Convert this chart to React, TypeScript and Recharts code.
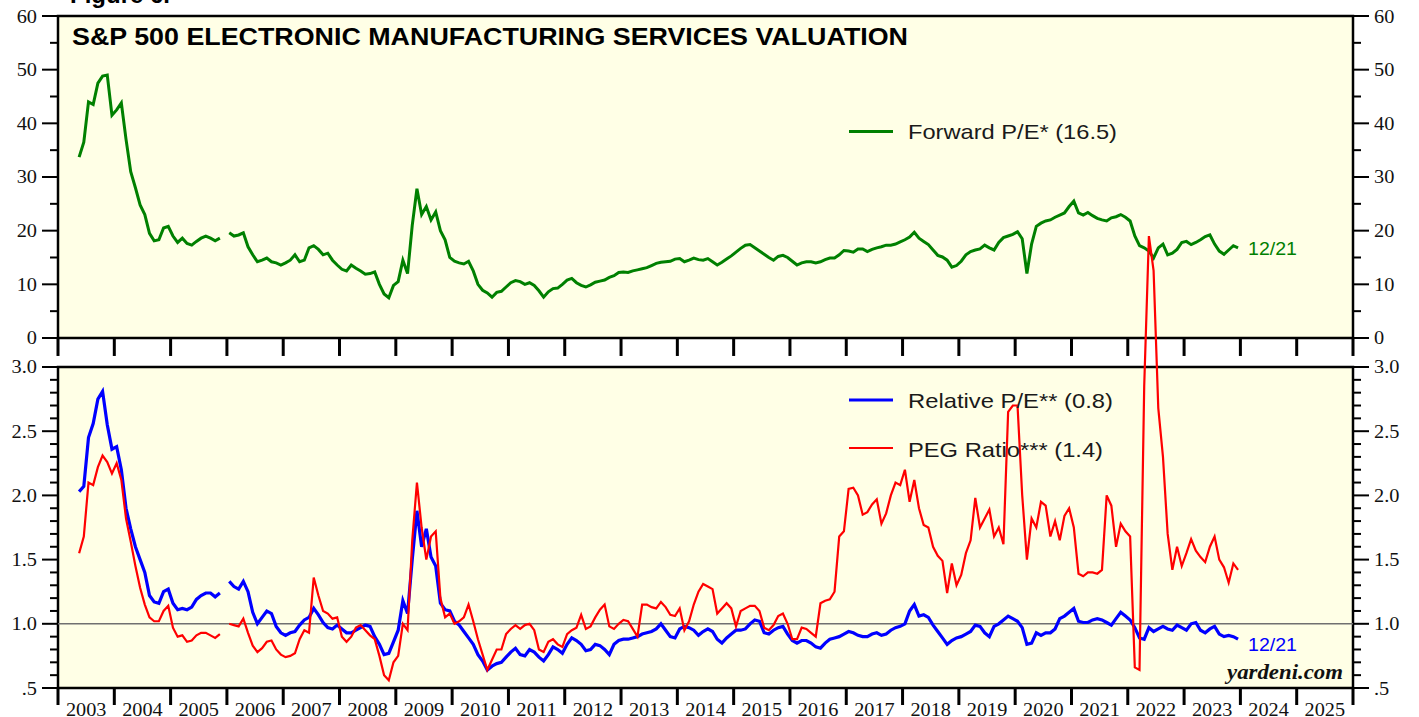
import React from 'react';
import { ComposedChart, Line, XAxis, YAxis, ReferenceArea, ReferenceLine } from 'recharts';

// ---------- DATA (monthly, May 2003 .. Dec 2023) ----------
const START_YEAR = 2003;
const START_MONTH = 5; // May

const forwardPE: (number | null)[] = [
  33.7, 36.5, 44, 43.5, 47.5, 48.8, 49, 41.5,
  42.5, 43.8, 37, 31, 28, 24.8, 23, 19.5, 18.1, 18.3, 20.5, 20.8,
  19, 17.8, 18.6, 17.6, 17.3, 18, 18.6, 19, 18.6, 18.1, 18.6, null,
  19.6, 19, 19.2, 19.6, 17, 15.5, 14.2, 14.5, 14.9, 14.2, 14, 13.6,
  14, 14.5, 15.5, 14.2, 14.5, 16.8, 17.2, 16.5, 15.5, 15.8, 14.5, 13.6,
  12.8, 12.5, 13.6, 13, 12.5, 11.9, 12, 12.3, 10, 8.2, 7.5, 9.8,
  10.5, 14.5, 12, 21, 27.8, 23, 24.5, 22, 23.5, 20, 18.3, 15,
  14.3, 14, 13.8, 14.3, 12.5, 10, 8.9, 8.4, 7.6, 8.5, 8.7, 9.5,
  10.3, 10.7, 10.5, 10, 10.3, 9.8, 8.8, 7.6, 8.6, 9.2, 9.3, 10,
  10.8, 11.1, 10.3, 9.8, 9.5, 9.9, 10.4, 10.6, 10.8, 11.3, 11.6, 12.2,
  12.3, 12.2, 12.5, 12.7, 12.9, 13.1, 13.5, 13.9, 14.1, 14.2, 14.3, 14.7,
  14.8, 14.2, 14.5, 14.9, 14.6, 14.5, 14.8, 14.2, 13.6, 14.1, 14.7, 15.3,
  16, 16.7, 17.3, 17.4, 16.8, 16.2, 15.6, 15, 14.5, 15.2, 15.4, 15,
  14.3, 13.6, 14, 14.2, 14.2, 14, 14.2, 14.6, 14.9, 14.9, 15.5, 16.3,
  16.2, 16, 16.6, 16.6, 16.1, 16.5, 16.8, 17, 17.3, 17.3, 17.5, 17.9,
  18.3, 18.8, 19.7, 18.6, 18, 17.4, 16.4, 15.4, 15.1, 14.5, 13.2, 13.5,
  14.3, 15.5, 16.1, 16.4, 16.6, 17.3, 16.8, 16.4, 17.8, 18.7, 19, 19.3,
  19.8, 18.5, 12, 17.5, 20.8, 21.4, 21.8, 22, 22.5, 22.9, 23.3, 24.5,
  25.5, 23.3, 22.9, 23.4, 22.8, 22.3, 22, 21.8, 22.4, 22.6, 23, 22.5,
  21.8, 19, 17.2, 16.8, 16.2, 14.9, 16.8, 17.5, 15.5, 15.8, 16.5, 17.8,
  18, 17.4, 17.8, 18.3, 18.9, 19.2, 17.5, 16.2, 15.6, 16.4, 17.2, 16.8,
];

const relativePE: (number | null)[] = [
  2.03, 2.07, 2.45, 2.56, 2.75, 2.81, 2.55, 2.36,
  2.38, 2.2, 1.9, 1.74, 1.6, 1.5, 1.4, 1.22, 1.17, 1.16, 1.25, 1.27,
  1.16, 1.11, 1.12, 1.11, 1.13, 1.19, 1.22, 1.24, 1.24, 1.21, 1.24, null,
  1.33, 1.29, 1.27, 1.33, 1.25, 1.09, 1.0, 1.05, 1.1, 1.08, 0.98, 0.93,
  0.91, 0.93, 0.94, 0.99, 1.03, 1.05, 1.12, 1.07, 1.01, 0.97, 0.96, 0.99,
  0.96, 0.93, 0.93, 0.95, 0.97, 0.99, 0.98, 0.9, 0.84, 0.76, 0.77, 0.86,
  0.95, 1.18, 1.08, 1.5, 1.88, 1.6, 1.74, 1.52, 1.45, 1.16, 1.11, 1.1,
  1.02, 0.99, 0.94, 0.89, 0.84, 0.76, 0.71, 0.64, 0.67, 0.69, 0.7, 0.74,
  0.78, 0.81, 0.76, 0.75, 0.8, 0.78, 0.74, 0.71, 0.76, 0.82, 0.8, 0.77,
  0.84, 0.89, 0.87, 0.84, 0.79, 0.8, 0.84, 0.83, 0.8, 0.76, 0.84, 0.87,
  0.88, 0.88, 0.89, 0.9, 0.92, 0.93, 0.94, 0.96, 1.0, 0.95, 0.9, 0.89,
  0.96, 0.98, 0.97, 0.95, 0.91, 0.94, 0.96, 0.94, 0.88, 0.85, 0.89, 0.92,
  0.95, 0.95, 0.96, 1.0, 1.03, 1.02, 0.93, 0.92, 0.95, 0.97, 0.98, 0.92,
  0.87, 0.85, 0.87, 0.87, 0.85, 0.82, 0.81, 0.85, 0.88, 0.89, 0.9, 0.92,
  0.94, 0.93, 0.91, 0.9, 0.9, 0.92, 0.93, 0.91, 0.92, 0.95, 0.97, 0.98,
  1.0, 1.1, 1.15, 1.06, 1.07, 1.05, 0.99, 0.94, 0.89, 0.84, 0.87, 0.89,
  0.9, 0.92, 0.94, 0.99, 0.98, 0.93, 0.9, 0.98, 1.0, 1.03, 1.06, 1.04,
  1.02, 0.97, 0.84, 0.85, 0.93, 0.91, 0.93, 0.93, 0.96, 1.04, 1.06, 1.09,
  1.12, 1.02, 1.01, 1.01, 1.03, 1.04, 1.03, 1.01, 0.99, 1.04, 1.09, 1.06,
  1.03, 0.97, 0.89, 0.88, 0.97, 0.94, 0.96, 0.98, 0.96, 0.95, 0.99, 0.97,
  0.95, 1.0, 1.01, 0.95, 0.93, 0.96, 0.98, 0.92, 0.9, 0.91, 0.9, 0.88,
];

const pegRatio: (number | null)[] = [
  1.55, 1.68, 2.1, 2.08, 2.22, 2.31, 2.26, 2.17,
  2.25, 2.12, 1.82, 1.64, 1.45, 1.28, 1.15, 1.05, 1.02, 1.02, 1.1, 1.14,
  0.97, 0.9, 0.91, 0.86, 0.87, 0.91, 0.93, 0.93, 0.91, 0.89, 0.92, null,
  1.0, 0.99, 0.98, 1.04, 0.93, 0.83, 0.78, 0.81, 0.86, 0.87, 0.8, 0.76,
  0.74, 0.75, 0.77, 0.88, 0.95, 0.93, 1.36, 1.22, 1.1, 1.08, 1.04, 1.05,
  0.9, 0.86, 0.9, 0.97, 0.99, 0.95, 0.91, 0.88, 0.75, 0.6, 0.56, 0.7,
  0.75, 1.0, 0.95, 1.65, 2.1, 1.75, 1.5, 1.68, 1.72, 1.2, 1.05, 1.08,
  1.0, 1.02, 1.05, 1.15, 1.02, 0.88, 0.76, 0.64, 0.72, 0.8, 0.8, 0.92,
  0.96, 0.99, 0.96, 0.99, 1.0, 0.95, 0.8, 0.78, 0.86, 0.88, 0.84, 0.82,
  0.92, 0.95, 0.97, 1.07, 0.96, 0.98, 1.05, 1.11, 1.15, 0.98, 0.96, 1.0,
  1.03, 1.02, 0.96, 0.9, 1.15, 1.15, 1.13, 1.12, 1.17, 1.13, 1.07, 1.06,
  1.12, 0.95, 1.02, 1.15, 1.25, 1.31, 1.29, 1.27, 1.08, 1.12, 1.16, 1.12,
  0.98, 1.1, 1.12, 1.14, 1.14, 1.1, 0.97, 0.95, 0.99, 1.06, 1.08, 1.0,
  0.88, 0.88, 0.97, 0.96, 0.93, 0.9, 1.16, 1.18, 1.19, 1.25, 1.68, 1.72,
  2.05, 2.06, 2.0, 1.85, 1.87, 1.93, 1.97, 1.78, 1.86, 2.0, 2.1, 2.08,
  2.2, 1.95, 2.12, 1.9, 1.77, 1.75, 1.6, 1.53, 1.49, 1.24, 1.47, 1.3,
  1.38, 1.55, 1.65, 1.98, 1.75, 1.82, 1.89, 1.68, 1.75, 1.62, 2.65, 2.7,
  2.7, 2.0, 1.5, 1.82, 1.75, 1.95, 1.92, 1.68, 1.8, 1.65, 1.84, 1.9,
  1.75, 1.39, 1.37, 1.4, 1.4, 1.39, 1.42, 2.0, 1.92, 1.6, 1.78, 1.72,
  1.68, 0.66, 0.64, 2.85, 4.02, 3.75, 2.68, 2.3, 1.7, 1.42, 1.6, 1.45,
  1.55, 1.66, 1.57, 1.52, 1.48, 1.6, 1.68, 1.5, 1.44, 1.32, 1.47, 1.42,
];

const yearTicks = [2003, 2004, 2005, 2006, 2007, 2008, 2009, 2010, 2011, 2012, 2013, 2014, 2015, 2016, 2017, 2018, 2019, 2020, 2021, 2022, 2023, 2024, 2025, 2026];
const yearLabels = [2003, 2004, 2005, 2006, 2007, 2008, 2009, 2010, 2011, 2012, 2013, 2014, 2015, 2016, 2017, 2018, 2019, 2020, 2021, 2022, 2023, 2024, 2025];
const peTicks = [0, 5, 10, 15, 20, 25, 30, 35, 40, 45, 50, 55, 60];
const peMajor = [0, 10, 20, 30, 40, 50, 60];
const relTicks = [0.5, 0.6, 0.7, 0.8, 0.9, 1.0, 1.1, 1.2, 1.3, 1.4, 1.5, 1.6, 1.7, 1.8, 1.9, 2.0, 2.1, 2.2, 2.3, 2.4, 2.5, 2.6, 2.7, 2.8, 2.9, 3.0];
const relMajor = [0.5, 1.0, 1.5, 2.0, 2.5, 3.0];
const relLabel: Record<string, string> = { '0.5': '.5', '1': '1.0', '1.5': '1.5', '2': '2.0', '2.5': '2.5', '3': '3.0' };

const rows = forwardPE.map((_, i) => {
  const mIdx = START_MONTH - 1 + i;
  return {
    t: START_YEAR + (mIdx + 0.5) / 12,
    pe: forwardPE[i],
    rel: relativePE[i],
    peg: pegRatio[i],
  };
});

// ---------- STYLE ----------
const W = 1419;
const H = 717;
const SERIF = '"Liberation Serif", "Times New Roman", Times, serif';
const SANS = '"Liberation Sans", Arial, Helvetica, sans-serif';
const CREAM = '#FFFFE6';
const GREEN = '#008000';
const BLUE = '#0000FF';
const RED = '#FF0000';

const numWidth = (s: string) => {
  let w = 0;
  for (const ch of s) w += ch === '.' ? 4.5 : 9;
  return w * 1.13;
};

// edge: pixel offset from the given tick x to the panel border
const makeYTick = (side: 'left' | 'right', majors: number[], fmt: (v: number) => string, edge: number) => (props: any) => {
  const { y, payload } = props;
  const x = props.x + edge;
  const v = Number(payload.value);
  const isMajor = majors.some((m) => Math.abs(m - v) < 1e-6);
  const dir = side === 'left' ? -1 : 1;
  const len = isMajor ? 16 : 8;
  const label = fmt(v);
  return (
    <g>
      <line x1={x} x2={x + dir * len} y1={y} y2={y} stroke="#000" strokeWidth={2} />
      {isMajor && (
        <text
          x={x + dir * 21}
          y={y + 6.5}
          textAnchor={side === 'left' ? 'end' : 'start'}
          fontFamily={SERIF}
          fontSize={18}
          fill="#111"
          textLength={numWidth(label)}
          lengthAdjust="spacingAndGlyphs"
        >
          {label}
        </text>
      )}
    </g>
  );
};

const peFmt = (v: number) => String(v);
const relFmt = (v: number) => relLabel[String(Math.round(v * 10) / 10)] ?? String(v);

const YearTick = (p: any) => (
  <line x1={p.x} x2={p.x} y1={688} y2={705} stroke="#000" strokeWidth={3} />
);
const YearLabel = (p: any) => (
  <text
    x={p.x}
    y={716}
    textAnchor="middle"
    fontFamily={SERIF}
    fontSize={18}
    fill="#111"
    textLength={40.5}
    lengthAdjust="spacingAndGlyphs"
  >
    {Math.floor(Number(p.payload.value))}
  </text>
);

const commonY = {
  type: 'number' as const,
  allowDataOverflow: true,
  interval: 0 as const,
  width: 1,
  tickSize: 0,
  tickMargin: 0,
  axisLine: false,
  tickLine: false,
};

export default function App() {
  return (
    <div style={{ position: 'absolute', left: 0, top: 0, width: W, height: H, background: '#fff', overflow: 'hidden' }}>
      <ComposedChart
        width={W}
        height={H}
        data={rows}
        margin={{ top: 16, right: 64, bottom: 27, left: 56 }}
      >
        <XAxis
          xAxisId="yr"
          dataKey="t"
          type="number"
          domain={[2003, 2026]}
          allowDataOverflow
          ticks={yearTicks}
          interval={0}
          height={1}
          tickSize={0}
          tickMargin={0}
          axisLine={false}
          tickLine={false}
          tick={<YearTick />}
        />
        <XAxis
          xAxisId="lbl"
          dataKey="t"
          type="number"
          domain={[2003, 2026]}
          allowDataOverflow
          ticks={yearLabels.map((y) => y + 0.5)}
          interval={0}
          height={1}
          tickSize={0}
          tickMargin={0}
          axisLine={false}
          tickLine={false}
          tick={<YearLabel />}
        />
        <YAxis yAxisId="pe" orientation="left" domain={[-65.22, 60]} ticks={peTicks} tick={makeYTick('left', peMajor, peFmt, 0)} {...commonY} />
        <YAxis yAxisId="rel" orientation="left" domain={[0.5, 5.7336]} ticks={relTicks} tick={makeYTick('left', relMajor, relFmt, 1)} {...commonY} />
        <YAxis yAxisId="peR" orientation="right" domain={[-65.22, 60]} ticks={peTicks} tick={makeYTick('right', peMajor, peFmt, 0)} {...commonY} />
        <YAxis yAxisId="relR" orientation="right" domain={[0.5, 5.7336]} ticks={relTicks} tick={makeYTick('right', relMajor, relFmt, -1)} {...commonY} />

        <ReferenceArea xAxisId="yr" yAxisId="pe" x1={2003} x2={2026} y1={0} y2={60} fill={CREAM} fillOpacity={1} stroke="#000" strokeWidth={2.5} />
        <ReferenceArea xAxisId="yr" yAxisId="rel" x1={2003} x2={2026} y1={0.5} y2={3.0} fill={CREAM} fillOpacity={1} stroke="#000" strokeWidth={2.5} />
        <ReferenceLine xAxisId="yr" yAxisId="rel" y={1} stroke="#707070" strokeWidth={1.5} />
        {yearTicks.map((yr) => (
          <ReferenceLine
            key={yr}
            xAxisId="yr"
            yAxisId="pe"
            segment={[{ x: yr, y: 0 }, { x: yr, y: -3.35 }]}
            stroke="#000"
            strokeWidth={3}
          />
        ))}

        <Line xAxisId="yr" yAxisId="pe" dataKey="pe" type="linear" stroke={GREEN} strokeWidth={3} dot={false} isAnimationActive={false} connectNulls={false} />
        <Line xAxisId="yr" yAxisId="rel" dataKey="rel" type="linear" stroke={BLUE} strokeWidth={3.2} dot={false} isAnimationActive={false} connectNulls={false} />
        <Line xAxisId="yr" yAxisId="rel" dataKey="peg" type="linear" stroke={RED} strokeWidth={2.2} dot={false} isAnimationActive={false} connectNulls={false} />
      </ComposedChart>

      <svg width={W} height={H} style={{ position: 'absolute', left: 0, top: 0, pointerEvents: 'none' }}>
        <text x={70} y={3} fontFamily={SANS} fontWeight="bold" fontSize={24} fill="#000">Figure 6.</text>
        <text x={72} y={45} fontFamily={SANS} fontWeight="bold" fontSize={24} fill="#000" textLength={836} lengthAdjust="spacingAndGlyphs">
          S&amp;P 500 ELECTRONIC MANUFACTURING SERVICES VALUATION
        </text>

        <line x1={849} x2={893} y1={131.5} y2={131.5} stroke={GREEN} strokeWidth={3} />
        <text x={908} y={139} fontFamily={SANS} fontSize={21} fill="#1a1a1a" textLength={209} lengthAdjust="spacingAndGlyphs">Forward P/E* (16.5)</text>

        <line x1={849} x2={893} y1={400} y2={400} stroke={BLUE} strokeWidth={3.2} />
        <text x={908} y={408} fontFamily={SANS} fontSize={21} fill="#1a1a1a" textLength={205} lengthAdjust="spacingAndGlyphs">Relative P/E** (0.8)</text>

        <line x1={849} x2={893} y1={448} y2={448} stroke={RED} strokeWidth={2.2} />
        <text x={908} y={457} fontFamily={SANS} fontSize={21} fill="#1a1a1a" textLength={195} lengthAdjust="spacingAndGlyphs">PEG Ratio*** (1.4)</text>

        <text x={1248} y={255} fontFamily={SANS} fontSize={18} fill={GREEN} textLength={49} lengthAdjust="spacingAndGlyphs">12/21</text>
        <text x={1248} y={651} fontFamily={SANS} fontSize={18} fill={BLUE} textLength={49} lengthAdjust="spacingAndGlyphs">12/21</text>

        <text x={1343} y={679} textAnchor="end" fontFamily={SERIF} fontStyle="italic" fontWeight="bold" fontSize={20} fill="#111" textLength={116} lengthAdjust="spacingAndGlyphs">yardeni.com</text>
      </svg>
    </div>
  );
}
